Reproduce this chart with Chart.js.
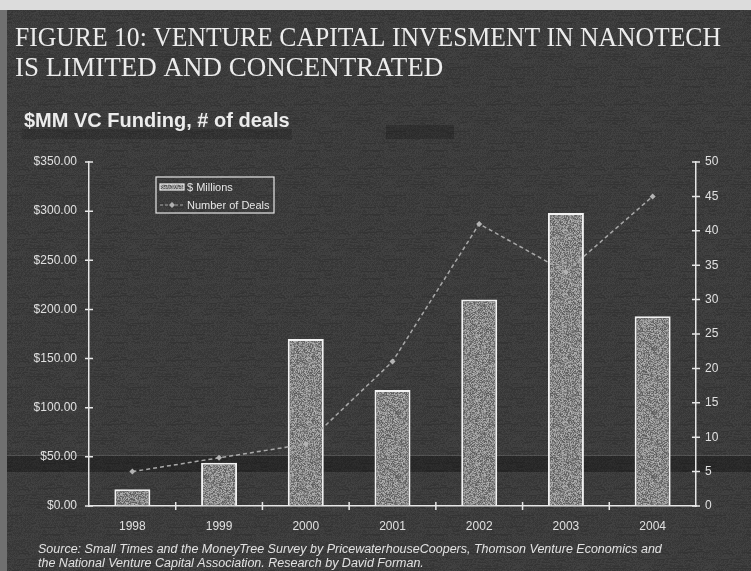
<!DOCTYPE html>
<html>
<head>
<meta charset="utf-8">
<script src="https://cdn.jsdelivr.net/npm/chart.js@4"></script>
<style>
  html, body { margin: 0; padding: 0; background: #3c3c3c; }
  canvas { display: block; }
</style>
</head>
<body>
<canvas id="vc" width="751" height="571"></canvas>
<script>
// data
const years = ['1998', '1999', '2000', '2001', '2002', '2003', '2004'];
const millions = [17, 44, 170, 118, 210, 298, 193];
const deals = [5, 7, 9, 21, 41, 34, 45];
const titleLines = ['FIGURE 10: VENTURE CAPITAL INVESMENT IN NANOTECH', 'IS LIMITED AND CONCENTRATED'];
const subTitle = '$MM VC Funding, # of deals';
const sourceLines = [
  'Source: Small Times and the MoneyTree Survey by PricewaterhouseCoopers, Thomson Venture Economics and',
  'the National Venture Capital Association. Research by David Forman.'
];

// speckled texture like the scanned print (styling only)
function speckle(base, spread, size) {
  const c = document.createElement('canvas');
  c.width = c.height = size;
  const g = c.getContext('2d');
  const img = g.createImageData(size, size);
  let s = 12345;
  for (let i = 0; i < size * size; i++) {
    s = (s * 1103515245 + 12345) & 0x7fffffff;
    const v = base + ((s >> 8) % (spread * 2)) - spread;
    img.data[i * 4] = img.data[i * 4 + 1] = img.data[i * 4 + 2] = v;
    img.data[i * 4 + 3] = 255;
  }
  g.putImageData(img, 0, 0);
  return g.createPattern(c, 'repeat');
}

const ctx0 = document.getElementById('vc').getContext('2d');
const barFill = speckle(135, 45, 64);
const bgFill = speckle(60, 8, 64);

const paint = {
  id: 'paint',
  beforeDraw(chart) {
    const c = chart.ctx;
    c.save();
    c.fillStyle = bgFill;
    c.fillRect(0, 0, chart.width, chart.height);
    // scan artefacts: white page edges, dark band, smudges
    c.fillStyle = '#dcdcdc';
    c.fillRect(0, 0, chart.width, 10);
    c.fillStyle = '#707070';
    c.fillRect(0, 10, 7, chart.height - 10);
    c.fillStyle = 'rgba(0,0,0,0.3)';
    c.fillRect(7, 456, chart.width, 16);
    c.fillStyle = 'rgba(255,255,255,0.12)';
    c.fillRect(7, 455, chart.width, 1);
    c.fillStyle = 'rgba(0,0,0,0.15)';
    c.fillRect(22, 129, 270, 10);
    c.fillStyle = 'rgba(0,0,0,0.2)';
    c.fillRect(386, 125, 68, 14);
    c.restore();
  },
  afterDraw(chart) {
    const c = chart.ctx;
    const a = chart.chartArea;
    const y = chart.scales.y, y1 = chart.scales.y1;
    c.save();
    c.strokeStyle = '#e6e6e6';
    c.lineWidth = 1.5;
    c.beginPath();
    y.ticks.forEach(t => {
      const p = y.getPixelForValue(t.value);
      c.moveTo(a.left - 4, p); c.lineTo(a.left + 4, p);
    });
    y1.ticks.forEach(t => {
      const p = y1.getPixelForValue(t.value);
      c.moveTo(a.right - 4, p); c.lineTo(a.right + 4, p);
    });
    const step = (a.right - a.left) / years.length;
    for (let i = 1; i < years.length; i++) {
      const p = a.left + i * step;
      c.moveTo(p, a.bottom - 4); c.lineTo(p, a.bottom + 4);
    }
    c.stroke();

    // titles
    c.fillStyle = '#ececec';
    c.textBaseline = 'alphabetic';
    c.font = '27px "Liberation Serif", "Times New Roman", serif';
    c.fillText(titleLines[0], 15, 46, 706);
    c.fillText(titleLines[1], 15, 76);
    c.font = 'bold 20px "Liberation Sans", Arial, sans-serif';
    c.fillText(subTitle, 24, 127);
    c.font = 'italic 12.5px "Liberation Sans", Arial, sans-serif';
    c.fillStyle = '#e2e2e2';
    c.fillText(sourceLines[0], 38, 553, 627);
    c.fillText(sourceLines[1], 38, 567);

    // legend box
    c.strokeStyle = '#e6e6e6';
    c.lineWidth = 1.2;
    c.strokeRect(156, 177, 118, 36);
    c.fillStyle = barFill;
    c.fillRect(160, 184, 24, 6);
    c.strokeStyle = '#f0f0f0';
    c.strokeRect(160, 184, 24, 6);
    c.strokeStyle = '#a8a8a8';
    c.setLineDash([3, 2]);
    c.beginPath(); c.moveTo(160, 205); c.lineTo(184, 205); c.stroke();
    c.setLineDash([]);
    c.fillStyle = '#b0b0b0';
    c.beginPath(); c.moveTo(172, 202); c.lineTo(175, 205); c.lineTo(172, 208); c.lineTo(169, 205); c.closePath(); c.fill();
    c.fillStyle = '#e6e6e6';
    c.font = '11px "Liberation Sans", Arial, sans-serif';
    c.fillText('$ Millions', 187, 191);
    c.fillText('Number of Deals', 187, 209);
    c.restore();
  }
};

new Chart(ctx0, {
  data: {
    labels: years,
    datasets: [
      {
        type: 'line',
        label: 'Number of Deals',
        data: deals,
        yAxisID: 'y1',
        borderColor: '#a8a8a8',
        borderWidth: 1.5,
        borderDash: [4, 3],
        pointStyle: 'rectRot',
        pointRadius: 3,
        pointBackgroundColor: '#b4b4b4',
        pointBorderWidth: 0,
        tension: 0,
        order: 0
      },
      {
        type: 'bar',
        label: '$ Millions',
        data: millions,
        yAxisID: 'y',
        backgroundColor: barFill,
        borderColor: '#f2f2f2',
        borderWidth: 2,
        barPercentage: 0.415,
        categoryPercentage: 1,
        order: 1
      }
    ]
  },
  options: {
    responsive: false,
    animation: false,
    devicePixelRatio: 1,
    layout: { padding: { top: 162, left: 0, right: 0, bottom: 0 } },
    plugins: {
      legend: { display: false },
      title: { display: false },
      tooltip: { enabled: false }
    },
    scales: {
      x: {
        offset: true,
        grid: { display: true, drawOnChartArea: false, drawTicks: false },
        border: { display: true, color: '#e6e6e6', width: 1.5 },
        ticks: { color: '#e0e0e0', padding: 13, font: { family: '"Liberation Sans", Arial', size: 12 } },
        afterFit(s) { s.height = 65; }
      },
      y: {
        position: 'left',
        min: 0, max: 350,
        grid: { display: true, drawOnChartArea: false, drawTicks: false },
        border: { display: true, color: '#e6e6e6', width: 1.5 },
        ticks: {
          stepSize: 50, color: '#e0e0e0', padding: 12,
          font: { family: '"Liberation Sans", Arial', size: 12 },
          callback: v => '$' + v.toFixed(2)
        },
        afterFit(s) { s.width = 89; }
      },
      y1: {
        position: 'right',
        min: 0, max: 50,
        grid: { display: true, drawOnChartArea: false, drawTicks: false },
        border: { display: true, color: '#e6e6e6', width: 1.5 },
        ticks: { stepSize: 5, color: '#e0e0e0', padding: 9, font: { family: '"Liberation Sans", Arial', size: 12 } },
        afterFit(s) { s.width = 55; }
      }
    }
  },
  plugins: [paint]
});
</script>
</body>
</html>
